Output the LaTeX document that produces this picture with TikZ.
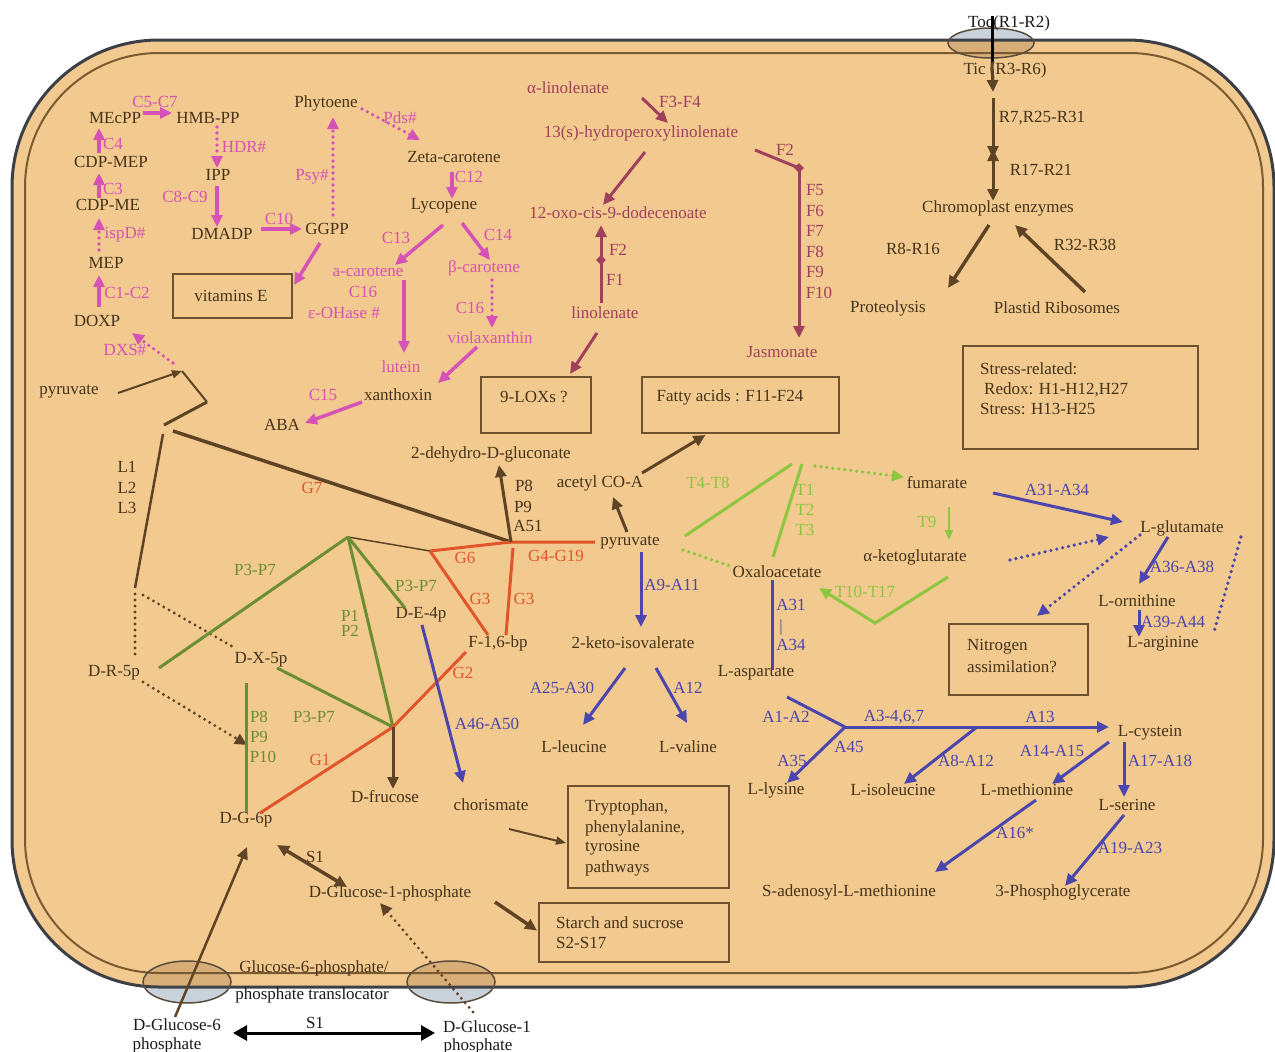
\documentclass[tikz,border=0pt]{standalone}
\usepackage{fontspec}
\setmainfont{Liberation Serif}
\usetikzlibrary{arrows.meta,calc,fit,shapes.geometric}
\definecolor{cfill}{HTML}{F2C98E}
\definecolor{cborder}{HTML}{3C4046}
\definecolor{cinner}{HTML}{7A5A30}
\definecolor{ctext}{HTML}{45331A}
\definecolor{cbrown}{HTML}{5E4425}
\definecolor{cbox}{HTML}{6E5230}
\definecolor{cpink}{HTML}{D652B6}
\definecolor{cmaroon}{HTML}{A0405C}
\definecolor{cred}{HTML}{E2552B}
\definecolor{colive}{HTML}{6C8E32}
\definecolor{clgreen}{HTML}{8DC63F}
\definecolor{cblue}{HTML}{4B45AE}
\definecolor{cmemout}{HTML}{C9D2DB}
\definecolor{cmemin}{HTML}{D8AE78}
\definecolor{cmemline}{HTML}{5A4C3C}
\newcommand\myfs{\fontsize{17}{19}\selectfont}
\begin{document}
\begin{tikzpicture}[x=1pt,y=-1pt,
 every node/.style={inner sep=0pt, font=\myfs},
 tb/.style={text=ctext}, tp/.style={text=cpink}, tm/.style={text=cmaroon},
 tr/.style={text=cred}, tg/.style={text=colive}, tl/.style={text=clgreen},
 tu/.style={text=cblue}, tk/.style={text=black!90},
 boxn/.style={draw=cbox, line width=2pt},
 sarr/.style={-{Triangle[length=12pt,width=11pt]}},
 sarrs/.style={-{Triangle[length=10pt,width=8pt]}},
 sarrb/.style={{Triangle[length=12pt,width=11pt]}-{Triangle[length=12pt,width=11pt]}},
 sarrk/.style={{Triangle[length=14pt,width=15pt]}-{Triangle[length=14pt,width=15pt]}},
 mydots/.style={dash pattern=on 0pt off 6pt, line cap=round},
 pkl/.style={cpink, line width=3.5pt}, pkd/.style={cpink, line width=3.6pt, mydots},
 mrl/.style={cmaroon, line width=3pt},
 brl/.style={cbrown, line width=3pt}, brd/.style={cbrown, line width=3.2pt, mydots},
 rdl/.style={cred, line width=3pt}, oll/.style={colive, line width=3pt},
 lgl/.style={clgreen, line width=3pt}, lgd/.style={clgreen, line width=3.6pt, mydots},
 bll/.style={cblue, line width=3pt}, bld/.style={cblue, line width=3.6pt, mydots}]
\useasboundingbox (0,0) rectangle (1275,1052);
\fill[white] (0,0) rectangle (1275,1052);
% cell body
\fill[cfill, rounded corners=147pt] (12,40) rectangle (1274,987);
% membrane channels (fill)
\fill[cmemout] (991,43) ellipse [x radius=43pt, y radius=15pt];
\fill[cmemout] (187,982) ellipse [x radius=44pt, y radius=21pt];
\fill[cmemout] (451,982) ellipse [x radius=44pt, y radius=21pt];
\begin{scope}
\clip[rounded corners=147pt] (12,40) rectangle (1274,987);
\fill[cmemin] (991,43) ellipse [x radius=43pt, y radius=15pt];
\fill[cmemin] (187,982) ellipse [x radius=44pt, y radius=21pt];
\fill[cmemin] (451,982) ellipse [x radius=44pt, y radius=21pt];
\end{scope}
% membranes
\draw[line width=3pt, draw=cborder, rounded corners=147pt] (12,40) rectangle (1274,987);
\draw[line width=2pt, draw=cinner, rounded corners=134pt] (25,53) rectangle (1263,973);
% channel outlines
\draw[cmemline, line width=1.5pt] (991,43) ellipse [x radius=43pt, y radius=15pt];
\draw[cmemline, line width=1.5pt] (187,982) ellipse [x radius=44pt, y radius=21pt];
\draw[cmemline, line width=1.5pt] (451,982) ellipse [x radius=44pt, y radius=21pt];

% junction coordinates
\coordinate (J1) at (182,371);
\coordinate (K1) at (207,402);
\coordinate (K2) at (164,425);
\coordinate (K3) at (173,431);
\coordinate (K4) at (163,434);
\coordinate (K5) at (135,588);
\coordinate (J2) at (511,542);
\coordinate (A0) at (348,537);
\coordinate (J3) at (393,727);
\coordinate (J4) at (430,551);
\coordinate (T0) at (797,463);
\coordinate (T10) at (875,623);
\coordinate (J5) at (845,727);
\coordinate (J6) at (977,727);
\coordinate (J7) at (799,168);

% ---------- nodes: MEP / carotenoid ----------
\node[tb] (mecpp) at (115,118) {MEcPP};
\node[tb] (hmbpp) at (208,118) {HMB-PP};
\node[tb] (cdpmep) at (111,162) {CDP-MEP};
\node[tb] (cdpme) at (108,205) {CDP-ME};
\node[tb] (ipp) at (218,175) {IPP};
\node[tb] (dmadp) at (222,234) {DMADP};
\node[tb] (mep) at (106,263) {MEP};
\node[tb] (doxp) at (97,321) {DOXP};
\node[tb] (ggpp) at (327,229) {GGPP};
\node[tb] (phyt) at (326,103) {Phytoene};
\node[tb] (zeta) at (454,157) {Zeta-carotene};
\node[tb] (lyco) at (444,206) {Lycopene};
\node[tp] (acar) at (368,272) {a-carotene};
\node[tp] (bcar) at (484,268) {β-carotene};
\node[tp] (viola) at (490,338) {violaxanthin};
\node[tp] (lute) at (401,367) {lutein};
\node[tb] (xanth) at (398,395) {xanthoxin};
\node[tb] (aba) at (282,425) {ABA};
\node[tb] (pyrl) at (69,392) {pyruvate};
\node[boxn, fit={(173,274) (292,318)}] (vitebox) {};
\node[tb] (vite) at (231,296) {vitamins E};
\node[tp] (lc57) at (155,102) {C5-C7};
\node[tp] (lc4) at (113,144) {C4};
\node[tp] (lc3) at (113,189) {C3};
\node[tp] (lisp) at (125,235) {ispD\#};
\node[tp] (lc12) at (127,293) {C1-C2};
\node[tp] (ldxs) at (125,350) {DXS\#};
\node[tp] (lhdr) at (244,147) {HDR\#};
\node[tp] (lc89) at (185,197) {C8-C9};
\node[tp] (lc10) at (279,219) {C10};
\node[tp] (lpsy) at (312,177) {Psy\#};
\node[tp] (lpds) at (400,118) {Pds\#};
\node[tp] (lc12b) at (469,177) {C12};
\node[tp] (lc13) at (396,238) {C13};
\node[tp] (lc14) at (498,235) {C14};
\node[tp] (lc16a) at (363,292) {C16};
\node[tp] (leoh) at (344,313) {ε-OHase \#};
\node[tp] (lc16b) at (470,308) {C16};
\node[tp] (lc15) at (323,395) {C15};

% ---------- nodes: jasmonate ----------
\node[tm] (alin) at (568,88) {α-linolenate};
\node[tm] (lf34) at (680,102) {F3-F4};
\node[tm] (hpl) at (641,133) {13(s)-hydroperoxylinolenate};
\node[tm] (oxo) at (618,213) {12-oxo-cis-9-dodecenoate};
\node[tm] (lf2a) at (618,250) {F2};
\node[tm] (lf1) at (615,280) {F1};
\node[tm] (linol) at (605,313) {linolenate};
\node[tm] (lf2b) at (785,150) {F2};
\node[tm] (lf5) at (815,190) {F5};
\node[tm] (lf6) at (815,211) {F6};
\node[tm] (lf7) at (815,231) {F7};
\node[tm] (lf8) at (815,252) {F8};
\node[tm] (lf9) at (815,272) {F9};
\node[tm] (lf10) at (819,293) {F10};
\node[tm] (jasm) at (782,352) {Jasmonate};
\node[boxn, fit={(481,377) (591,433)}] (loxbox) {};
\node[tb] (lox) at (534,397) {9-LOXs ?};
\node[boxn, fit={(642,377) (839,433)}] (fattybox) {};
\node[tb] (fatty) at (730,397) {Fatty acids : F11-F24};

% ---------- nodes: import ----------
\node[tk] (toc) at (1009,23) {Toc(R1-R2)};
\node[tb] (tic) at (1005,70) {Tic (R3-R6)};
\node[tb] (lr7) at (1042,118) {R7,R25-R31};
\node[tb] (lr17) at (1041,170) {R17-R21};
\node[tb] (chromo) at (998,208) {Chromoplast enzymes};
\node[tb] (lr8) at (913,249) {R8-R16};
\node[tb] (lr32) at (1085,245) {R32-R38};
\node[tb] (prot) at (888,308) {Proteolysis};
\node[tb] (plast) at (1057,308) {Plastid Ribosomes};
\node[boxn, fit={(963,346) (1198,449)}] (stressbox) {};
\node[tb, anchor=west] (st1) at (980,369) {Stress-related:};
\node[tb, anchor=west] (st2) at (984,390) {Redox: H1-H12,H27};
\node[tb, anchor=west] (st3) at (980,409) {Stress: H13-H25};

% ---------- nodes: glycolysis / pentose ----------
\node[tb] (dehyd) at (491,454) {2-dehydro-D-gluconate};
\node[tb] (lp8a) at (524,486) {P8};
\node[tb] (lp9a) at (523,507) {P9};
\node[tb] (la51) at (528,526) {A51};
\node[tb] (acetyl) at (600,483) {acetyl CO-A};
\node[tb] (pyr) at (630,543) {pyruvate};
\node[tr] (lg7) at (312,488) {G7};
\node[tb] (ll1) at (127,467) {L1};
\node[tb] (ll2) at (127,488) {L2};
\node[tb] (ll3) at (127,508) {L3};
\node[tr] (lg6) at (465,558) {G6};
\node[tr] (lg419) at (556,556) {G4-G19};
\node[tr] (lg3a) at (480,599) {G3};
\node[tr] (lg3b) at (524,599) {G3};
\node[tb] (f16) at (498,643) {F-1,6-bp};
\node[tb] (de4p) at (421,615) {D-E-4p};
\node[tg] (lp37a) at (255,570) {P3-P7};
\node[tg] (lp37b) at (416,586) {P3-P7};
\node[tg] (lp1) at (350,616) {P1};
\node[tg] (lp2) at (350,631) {P2};
\node[tb] (dr5p) at (114,673) {D-R-5p};
\node[tb] (dx5p) at (261,660) {D-X-5p};
\node[tg] (lp8b) at (259,717) {P8};
\node[tg] (lp9b) at (259,737) {P9};
\node[tg] (lp10) at (263,757) {P10};
\node[tg] (lp37c) at (314,717) {P3-P7};
\node[tr] (lg2) at (463,673) {G2};
\node[tr] (lg1) at (320,760) {G1};
\node[tu] (la4650) at (487,724) {A46-A50};
\node[tb] (dfruc) at (385,797) {D-frucose};
\node[tb] (chor) at (491,805) {chorismate};
\node[tb] (dg6p) at (246,820) {D-G-6p};
\node[tb] (ls1a) at (315,857) {S1};
\node[tb] (dglc1p) at (390,893) {D-Glucose-1-phosphate};
\node[boxn, fit={(568,786) (729,888)}] (trypbox) {};
\node[tb, anchor=west] (tr1) at (585,807) {Tryptophan,};
\node[tb, anchor=west] (tr2) at (585,828) {phenylalanine,};
\node[tb, anchor=west] (tr3) at (585,848) {tyrosine};
\node[tb, anchor=west] (tr4) at (585,868) {pathways};
\node[boxn, fit={(539,903) (729,962)}] (starchbox) {};
\node[tb, anchor=west] (sc1) at (556,923) {Starch and sucrose};
\node[tb, anchor=west] (sc2) at (556,943) {S2-S17};
\node[tb] (g6pt) at (314,968) {Glucose-6-phosphate/};
\node[tk] (ptrans) at (312,995) {phosphate translocator};
\node[tk] (g6e1) at (177,1025) {D-Glucose-6};
\node[tk] (g6e2) at (167,1045) {phosphate};
\node[tk] (g1e1) at (487,1027) {D-Glucose-1};
\node[tk] (g1e2) at (478,1046) {phosphate};
\node[tk] (ls1b) at (315,1023) {S1};

% ---------- nodes: amino acids / TCA ----------
\node[tu] (la911) at (672,585) {A9-A11};
\node[tb] (keto) at (633,643) {2-keto-isovalerate};
\node[tu] (la2530) at (562,688) {A25-A30};
\node[tu] (la12a) at (688,688) {A12};
\node[tb] (leu) at (574,747) {L-leucine};
\node[tb] (val) at (688,747) {L-valine};
\node[tl] (lt48) at (708,483) {T4-T8};
\node[tl] (lt1) at (805,490) {T1};
\node[tl] (lt2) at (805,510) {T2};
\node[tl] (lt3) at (805,530) {T3};
\node[tb] (fum) at (937,483) {fumarate};
\node[tl] (lt9) at (927,522) {T9};
\node[tb] (aketo) at (915,557) {α-ketoglutarate};
\node[tu] (la3134) at (1057,490) {A31-A34};
\node[tb] (lglu) at (1182,528) {L-glutamate};
\node[tb] (oxalo) at (777,572) {Oxaloacetate};
\node[tl] (lt1017) at (865,592) {T10-T17};
\node[tu] (la3638) at (1182,567) {A36-A38};
\node[tb] (lorn) at (1137,601) {L-ornithine};
\node[tu] (la3944) at (1173,622) {A39-A44};
\node[tb] (larg) at (1163,644) {L-arginine};
\node[boxn, fit={(949,624) (1088,695)}] (nitrobox) {};
\node[tb, anchor=west] (ni1) at (967,647) {Nitrogen};
\node[tb, anchor=west] (ni2) at (967,667) {assimilation?};
\node[tu] (la31) at (791,605) {A31};
\node[tu] (lbar) at (781,627) {|};
\node[tu] (la34) at (791,645) {A34};
\node[tb] (lasp) at (756,673) {L-aspartate};
\node[tu] (la12b) at (786,717) {A1-A2};
\node[tu] (la3467) at (894,717) {A3-4,6,7};
\node[tu] (la13) at (1040,717) {A13};
\node[tb] (lcys) at (1150,733) {L-cystein};
\node[tu] (la45) at (849,747) {A45};
\node[tu] (la35) at (792,761) {A35};
\node[tu] (la812) at (966,761) {A8-A12};
\node[tu] (la1415) at (1052,751) {A14-A15};
\node[tu] (la1718) at (1160,761) {A17-A18};
\node[tb] (llys) at (776,790) {L-lysine};
\node[tb] (liso) at (893,790) {L-isoleucine};
\node[tb] (lmet) at (1027,790) {L-methionine};
\node[tb] (lser) at (1127,805) {L-serine};
\node[tu] (la16) at (1015,833) {A16*};
\node[tu] (la1923) at (1130,848) {A19-A23};
\node[tb] (sad) at (849,892) {S-adenosyl-L-methionine};
\node[tb] (pg3) at (1063,892) {3-Phosphoglycerate};

% ================= connectors =================
% MEP pathway & carotenoids
\draw[pkl, sarr] ($(mecpp)+(28,-5)$) -- ($(hmbpp)+(-36,-5)$);
\draw[pkd, sarr] ($(hmbpp)+(9,9)$) -- ($(ipp)+(-1,-7)$);
\draw[pkl, sarr] ($(ipp)+(-1,11)$) -- ($(dmadp)+(-5,-7)$);
\draw[pkl, sarr] ($(dmadp)+(39,-5)$) -- ($(ggpp)+(-25,0)$);
\draw[pkd, sarr] ($(ggpp)+(6,-14)$) -- ($(phyt)+(7,14)$);
\draw[pkd, sarr] ($(phyt)+(36,6)$) -- ($(zeta)+(-34,-17)$);
\draw[pkl, sarr] ($(zeta)+(-2,15)$) -- ($(lyco)+(8,-7)$);
\draw[pkl, sarr] ($(lyco)+(-1,19)$) -- ($(acar)+(27,-7)$);
\draw[pkl, sarr] ($(lyco)+(18,17)$) -- ($(bcar)+(6,-8)$);
\draw[pkd, sarr] ($(bcar)+(8,12)$) -- ($(viola)+(2,-10)$);
\draw[pkl, sarr] ($(acar)+(36,8)$) -- ($(lute)+(3,-14)$);
\draw[pkl, sarr] ($(viola)+(-13,9)$) -- ($(xanth)+(40,-12)$);
\draw[pkl, sarr] ($(xanth)+(-36,7)$) -- ($(aba)+(23,-2)$);
\draw[pkl, sarr] ($(ggpp)+(-7,14)$) -- ($(vitebox.east)+(1,-11)$);
\draw[pkl, sarr] ($(doxp)+(2,-14)$) -- ($(mep)+(-7,12)$);
\draw[pkd, sarr] ($(mep)+(-7,-13)$) -- ($(cdpme)+(-9,13)$);
\draw[pkl, sarr] ($(cdpme)+(-9,-7)$) -- ($(cdpmep)+(-12,11)$);
\draw[pkl, sarr] ($(cdpmep)+(-12,-9)$) -- ($(mecpp)+(-16,10)$);
\draw[pkd, sarr] ($(J1)+(-9,-8)$) -- ($(doxp)+(35,12)$);

% jasmonate
\draw[mrl, sarr] ($(alin)+(74,10)$) -- ($(hpl)+(27,-10)$);
\draw[mrl, sarr] ($(hpl)+(4,19)$) -- ($(oxo)+(-15,-8)$);
\draw[mrl, sarr] ($(linol)+(-4,-10)$) -- ($(oxo)+(-17,12)$);
\node[diamond, fill=cmaroon, minimum size=10pt] (dia1) at ($(linol)+(-4,-53)$) {};
\draw[mrl] ($(hpl)+(114,17)$) -- (J7);
\draw[mrl, sarr] (J7) -- ($(jasm)+(17,-14)$);
\node[diamond, fill=cmaroon, minimum size=10pt] (dia2) at (J7) {};
\draw[mrl, sarr] ($(linol)+(-8,20)$) -- ($(loxbox.north)+(34,-2)$);

% import
\draw[black, line width=3pt] ($(toc)+(-17,-7)$) -- ($(tic)+(-13,-8)$);
\draw[brl, sarr] ($(tic)+(-13,-8)$) -- ($(tic)+(-12,22)$);
\draw[brl, sarr] ($(tic)+(-12,28)$) -- ($(lr17)+(-48,-12)$);
\draw[brl, sarrb] ($(lr17)+(-48,-21)$) -- ($(chromo)+(-5,-7)$);
\draw[cbrown, line width=3.5pt, sarr] ($(chromo)+(-9,17)$) -- ($(prot)+(60,-20)$);
\draw[cbrown, line width=3.5pt, sarr] ($(plast)+(28,-16)$) -- ($(chromo)+(17,17)$);

% left brown network
\draw[cbrown, line width=2pt, sarrs] ($(pyrl)+(49,1)$) -- (J1);
\draw[cbrown, line width=2pt] (J1) -- (K1);
\draw[brl] (K1) -- (K2);
\draw[cbrown, line width=3.5pt] (K3) -- (J2);
\draw[cbrown, line width=2.5pt] (K4) -- (K5);
\draw[brd] ($(K5)+(0,6)$) -- ($(dr5p)+(21,-18)$);
\draw[brd] ($(K5)+(8,7)$) -- ($(dx5p)+(-26,-12)$);
\draw[brd, sarr] ($(dr5p)+(29,9)$) -- ($(dg6p)+(1,-75)$);

% pentose phosphate (green)
\draw[cbrown, line width=1.5pt] (A0) -- (J4);
\draw[oll] (A0) -- ($(dr5p)+(45,-5)$);
\draw[oll] (A0) -- (J3);
\draw[oll] (A0) -- ($(de4p)+(-16,-7)$);
\draw[oll] ($(dx5p)+(16,8)$) -- (J3);
\draw[oll] ($(dg6p)+(0,-137)$) -- ($(dg6p)+(0,-8)$);

% glycolysis (red)
\draw[rdl] (J4) -- (J2) -- ($(pyr)+(-35,-1)$);
\draw[rdl] (J4) -- ($(f16)+(-10,-8)$);
\draw[rdl] ($(J2)+(2,6)$) -- ($(f16)+(8,-8)$);
\draw[rdl] ($(f16)+(-32,9)$) -- (J3) -- ($(dg6p)+(14,-7)$);

% brown arrows, centre
\draw[brl, sarr] (J2) -- ($(dehyd)+(8,11)$);
\draw[brl, sarr] (J3) -- ($(dfruc)+(8,-8)$);
\draw[brl, sarr] ($(pyr)+(-3,-11)$) -- ($(acetyl)+(13,14)$);
\draw[brl, sarr] ($(acetyl)+(42,-10)$) -- ($(fattybox.south)+(-35,1)$);
\draw[cbrown, line width=2pt, sarrs] ($(chor)+(18,24)$) -- ($(trypbox.west)+(-1,6)$);
\draw[cbrown, line width=3.5pt, sarr] ($(dglc1p)+(105,9)$) -- ($(starchbox.west)+(-1,-2)$);
\draw[cbrown, line width=3.5pt, sarrb] ($(dg6p)+(31,25)$) -- ($(dglc1p)+(-43,-6)$);
\draw[cbrown, line width=2.5pt, sarr] ($(g6e1)+(-2,-8)$) -- ($(dg6p)+(1,27)$);
\draw[brd, sarr] ($(g1e1)+(-14,-15)$) -- ($(dglc1p)+(-10,10)$);
\draw[black, line width=3pt, sarrk] ($(g6e1)+(56,8)$) -- ($(g1e1)+(-52,6)$);

% TCA (light green)
\draw[lgl] ($(pyr)+(55,-7)$) -- ($(T0)+(-5,1)$);
\draw[lgl] ($(T0)+(5,1)$) -- ($(oxalo)+(-4,-15)$);
\draw[lgd, sarr] ($(T0)+(18,3)$) -- ($(fum)+(-33,-6)$);
\draw[lgd] ($(pyr)+(53,7)$) -- ($(oxalo)+(-47,-6)$);
\draw[clgreen, line width=2pt, sarrs] ($(fum)+(12,24)$) -- ($(aketo)+(34,-17)$);
\draw[lgl, sarr] ($(aketo)+(33,20)$) -- (T10) -- ($(oxalo)+(42,16)$);

% amino acids (blue)
\draw[bll, sarr] ($(pyr)+(11,9)$) -- ($(keto)+(8,-16)$);
\draw[bll, sarr] ($(keto)+(-8,25)$) -- ($(leu)+(9,-22)$);
\draw[bll, sarr] ($(keto)+(23,25)$) -- ($(val)+(-1,-24)$);
\draw[bll, sarr] ($(de4p)+(1,10)$) -- ($(chor)+(-28,-22)$);
\draw[bll, sarr] ($(fum)+(56,10)$) -- ($(lglu)+(-59,-6)$);
\draw[bld, sarr] ($(aketo)+(95,3)$) -- ($(lglu)+(-73,9)$);
\draw[bld, sarr] ($(lglu)+(-42,7)$) -- ($(nitrobox.north)+(18.5,-7)$);
\draw[bll, sarr] ($(lglu)+(-14,9)$) -- ($(lorn)+(2,-17)$);
\draw[bll, sarr] ($(lorn)+(2,9)$) -- ($(larg)+(-24,-7)$);
\draw[bld] ($(lglu)+(59,9)$) -- ($(larg)+(50,-9)$);
\draw[bll] ($(oxalo)+(-5,8)$) -- ($(lasp)+(16,-3)$);
\draw[bll] ($(lasp)+(31,24)$) -- (J5);
\draw[bll, sarr] (J5) -- ($(lcys)+(-41,-6)$);
\draw[bll, sarr] (J5) -- ($(llys)+(11,-7)$);
\draw[bll, sarr] (J6) -- ($(liso)+(11,-6)$);
\draw[bll, sarr] ($(lcys)+(-41,9)$) -- ($(lmet)+(25,-6)$);
\draw[bll, sarr] ($(lcys)+(-26,9)$) -- ($(lser)+(-3,-8)$);
\draw[bll, sarr] ($(lmet)+(9,10)$) -- ($(sad)+(86,-20)$);
\draw[bll, sarr] ($(lser)+(-3,10)$) -- ($(pg3)+(2,-6)$);
\end{tikzpicture}
\end{document}
